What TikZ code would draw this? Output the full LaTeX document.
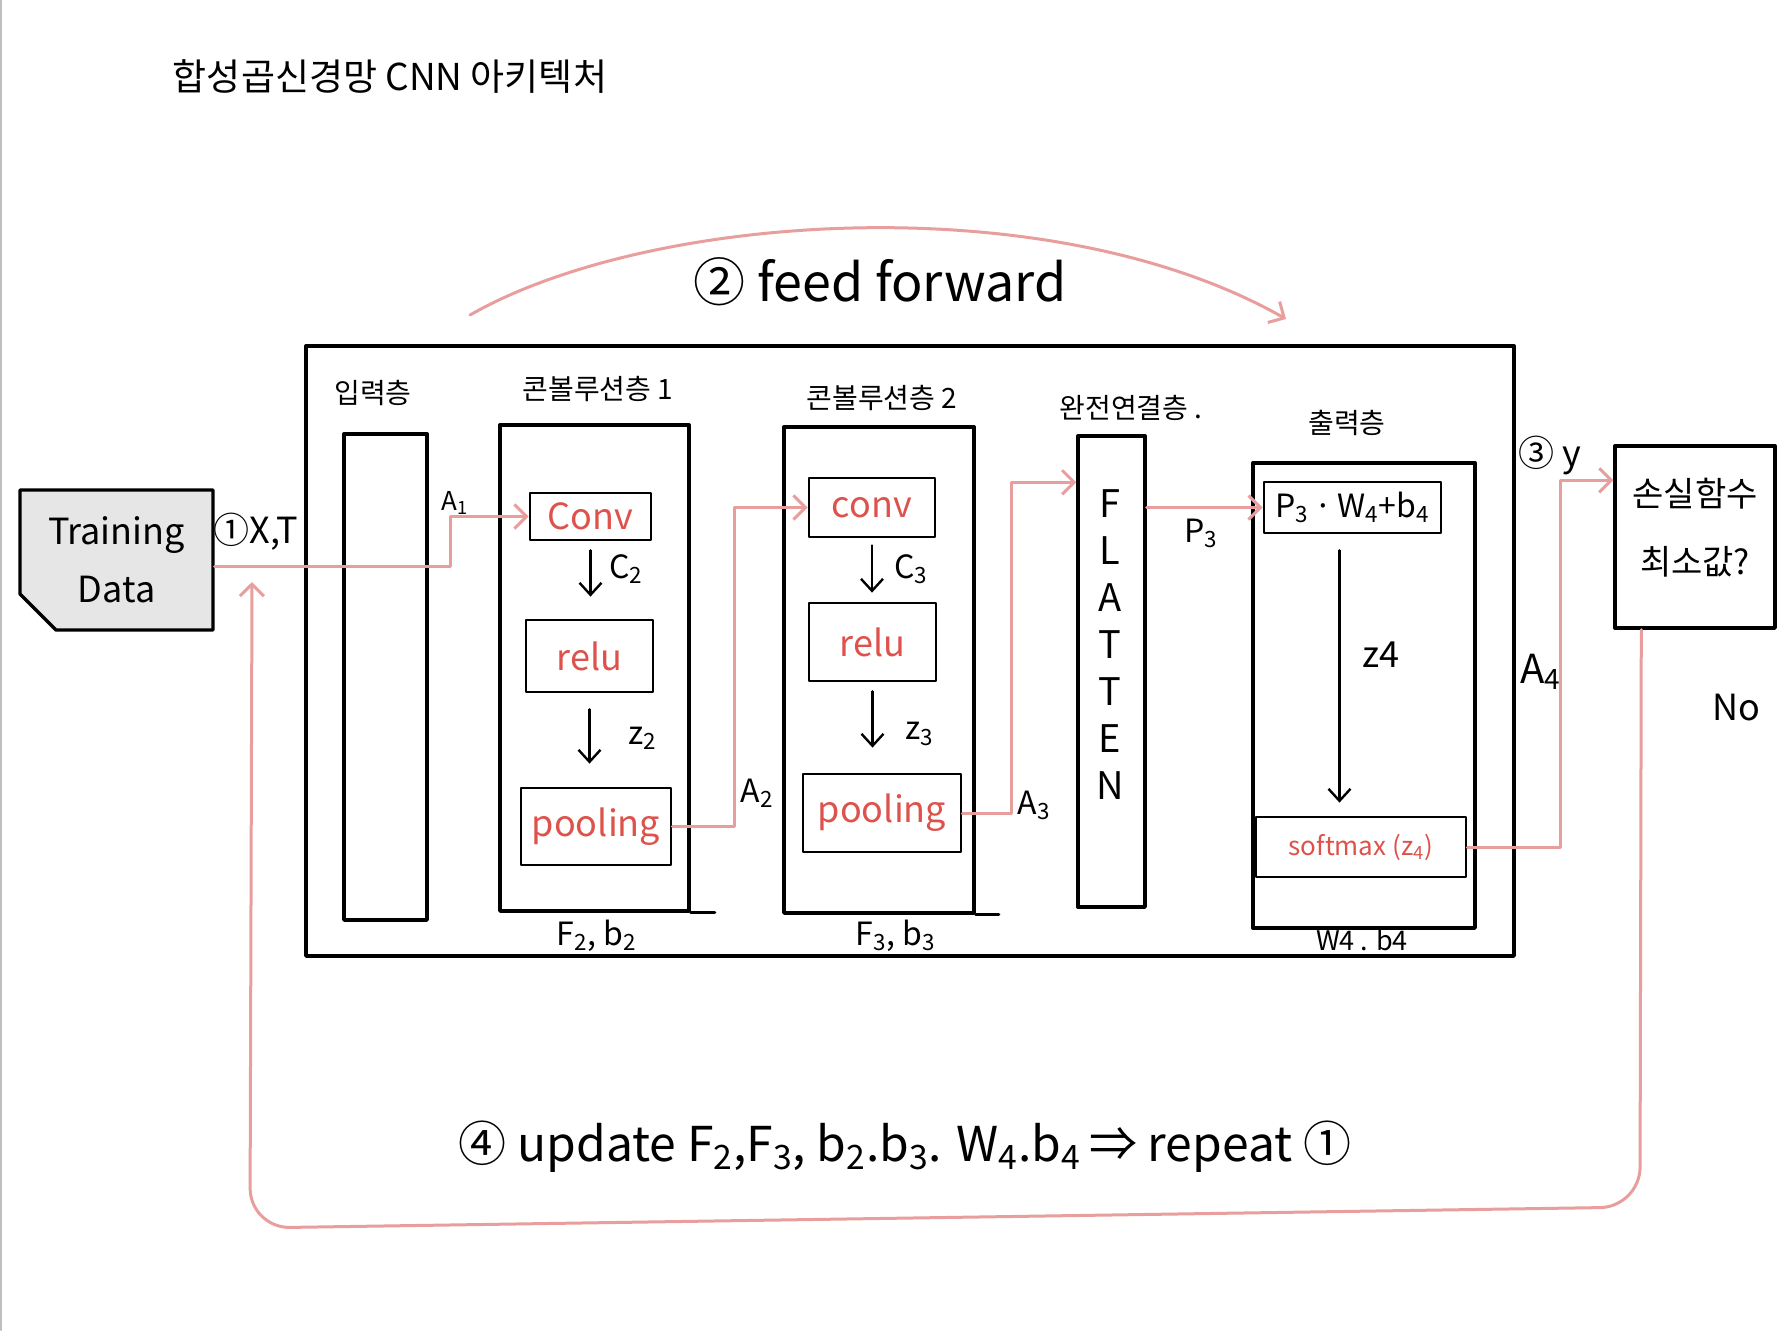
\documentclass[tikz,border=0pt]{standalone}
\usepackage{fontspec}
\setmainfont{Noto Sans CJK KR}
\usetikzlibrary{arrows.meta,shapes.misc,calc}
\definecolor{pinkline}{RGB}{233,158,158}
\definecolor{redtxt}{RGB}{222,82,76}
\definecolor{graybox}{RGB}{230,230,230}
\newcommand\lsub[1]{\textsubscript{#1}}
\newcommand\fsz[2]{\fontsize{#1}{#2}\selectfont}
\begin{document}
\begin{tikzpicture}[x=0.5pt,y=-0.5pt, line join=round, line cap=round,
  box/.style={draw, line width=1.7pt, inner sep=0pt},
  ibox/.style={draw, line width=1.4pt, inner sep=0pt},
  pk/.style={draw=pinkline, line width=1.5pt, -{Straight Barb[length=6pt,width=12pt]}},
  bk/.style={draw=black, line width=1.2pt, -{Straight Barb[length=6pt,width=11pt]}},
  redt/.style={text=redtxt, font=\fsz{18pt}{22pt}},
  lay/.style={font=\fsz{14pt}{17pt}},
  lab/.style={font=\fsz{16pt}{19pt}}]
\useasboundingbox (0,0) rectangle (1785,1330);
\fill[white] (0,0) rectangle (1785,1330);
\draw[black!25, line width=1pt] (1,0) -- (1,1330);

\node[font=\fsz{18.5pt}{22pt}] (title) at (390,77) {합성곱신경망 CNN 아키텍처};

% outer frame
\node[box, minimum width=604pt, minimum height=305pt] (outer) at (910,651) {};

% training data
\node[box, fill=graybox, chamfered rectangle, chamfered rectangle corners=south west,
  chamfered rectangle xsep=8pt, chamfered rectangle ysep=10pt,
  minimum width=96.5pt, minimum height=70pt, align=center, font=\fsz{18pt}{29pt}] (train) at (116.5,560) {Training\\Data};

% input layer
\node[box, minimum width=41.5pt, minimum height=243pt] (inp) at (385.5,677) {};
\node[lay] (inpl) at (373,393) {입력층};

% conv layer 1
\node[box, minimum width=94.5pt, minimum height=243pt] (cl1) at (594.5,668) {};
\node[lay] (cl1l) at (598,389) {콘볼루션층 1};
\node[ibox, redt, minimum width=60.5pt, minimum height=23.5pt] (c1) at (590.5,516.5) {Conv};
\node[ibox, redt, minimum width=63.5pt, minimum height=36pt] (r1) at (589.5,656) {relu};
\node[ibox, redt, minimum width=75pt, minimum height=38.5pt] (p1) at (596,826.5) {pooling};
\draw[line width=1.7pt] (cl1.south east) -- ++(12pt,0);

% conv layer 2
\node[box, minimum width=95pt, minimum height=243pt] (cl2) at (879,670) {};
\node[lay] (cl2l) at (882,398) {콘볼루션층 2};
\node[ibox, redt, minimum width=63pt, minimum height=29.5pt] (c2) at (872,507.5) {conv};
\node[ibox, redt, minimum width=63.5pt, minimum height=39pt] (r2) at (872.5,642) {relu};
\node[ibox, redt, minimum width=79pt, minimum height=39pt] (p2) at (882,813) {pooling};
\draw[line width=1.7pt] (cl2.south east) -- ++(11.5pt,0);

% flatten
\node[box, minimum width=33.5pt, minimum height=235.5pt] (flat) at (1111.5,671.5) {};
\node[font=\fsz{19pt}{23.5pt}, align=center] (flatt) at (1110,645) {F\\L\\A\\T\\T\\E\\N};
\node[lay] (flatl) at (1131,408) {완전연결층 .};

% output layer
\node[box, minimum width=111pt, minimum height=232.5pt] (outl) at (1364,695.5) {};
\node[lay] (outll) at (1347,423) {출력층};
\node[ibox, font=\fsz{16pt}{19pt}, minimum width=88.5pt, minimum height=25.5pt] (pwb) at (1352.5,507.5) {P\lsub{3}\,·\,W\lsub{4}+b\lsub{4}};
\node[ibox, text=redtxt, font=\fsz{13pt}{16pt}, minimum width=105pt, minimum height=30pt] (sm) at (1361,847) {softmax (z\lsub{4})};

% loss
\node[box, minimum width=80pt, minimum height=91pt, align=center, font=\fsz{17pt}{34pt}] (loss) at (1695,537) {손실함수\\최소값?\\[-23pt]};

% labels
\node[font=\fsz{18pt}{22pt}] (xt) at (256,532) {①X,T};
\node[font=\fsz{13pt}{16pt}] (a1) at (455,503) {A\lsub{1}};
\node[lab] (a2) at (757,793) {A\lsub{2}};
\node[lab] (a3) at (1034,805) {A\lsub{3}};
\node[lab] (p3l) at (1201,533) {P\lsub{3}};
\node[font=\fsz{18pt}{22pt}] (yl) at (1550,455) {③ y};
\node[font=\fsz{20pt}{24pt}] (a4) at (1541,672) {A\lsub{4}};
\node[font=\fsz{18pt}{22pt}] (no) at (1736,708) {No};
\node[lab] (fb2) at (597,936) {F\lsub{2}, b\lsub{2}};
\node[lab] (fb3) at (896,936) {F\lsub{3}, b\lsub{3}};
\node[font=\fsz{13.5pt}{16pt}] (wb4) at (1362,940) {W4 . b4};
\node[lab] (c2l) at (626,569) {C\lsub{2}};
\node[lab] (z2l) at (643,738) {z\lsub{2}};
\node[lab] (c3l) at (911,569) {C\lsub{3}};
\node[lab] (z3l) at (920,734) {z\lsub{3}};
\node[font=\fsz{18pt}{22pt}] (z4l) at (1381,655) {z4};
\node[font=\fsz{26pt}{30pt}] (ff) at (880,282) {② feed forward};
\node[font=\fsz{24pt}{28pt}] (upd) at (905,1147) {④ update F\lsub{2},F\lsub{3}, b\lsub{2}.b\lsub{3}. W\lsub{4}.b\lsub{4}\,⇒ repeat ①};

% pink connectors
\coordinate (k0) at (450,566);
\draw[pk] (train.east |- k0) -- (k0) |- (c1.west);
\coordinate (k1) at (734,826.5);
\draw[pk] (p1.east) -- (k1) |- (c2.west);
\coordinate (k2) at (1011,813);
\draw[pk] (p2.east) -- (k2) |- ([yshift=-24pt]flat.north west);
\draw[pk] (flat.east |- pwb.west) -- (pwb.west);
\coordinate (k3) at (1560,847);
\draw[pk] (sm.east) -- (k3) |- ([yshift=-18pt]loss.north west);

\coordinate (fbA) at (1640,1207);
\coordinate (fbB) at (250,1228);
\coordinate (fbtip) at (252,582);
\draw[pk, rounded corners=20pt] ([xshift=14pt]loss.south west) -- (fbA) -- (fbB) -- (fbtip);

\coordinate (ffs) at (470,315);
\coordinate (ffe) at (1286,319);
\draw[pk] (ffs) .. controls (650,212) and (1050,185) .. (ffe);

% black arrows
\draw[bk, shorten <=4.5pt, shorten >=11pt] (c1.south) -- (c1.south |- r1.north);
\draw[bk, shorten <=8pt, shorten >=11.5pt] (r1.south) -- (r1.south |- p1.north);
\draw[bk, shorten <=3.5pt, shorten >=4.5pt] (c2.south) -- (c2.south |- r2.north);
\draw[bk, shorten <=4.5pt, shorten >=12.5pt] (r2.south) -- (r2.south |- p2.north);
\draw[bk, shorten <=8pt, shorten >=6.5pt] ([xshift=-6.5pt]pwb.south) -- ([xshift=-6.5pt]pwb.south |- sm.north);
\end{tikzpicture}
\end{document}
